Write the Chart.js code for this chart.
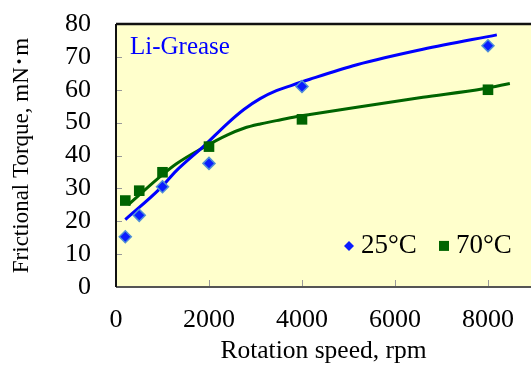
<!DOCTYPE html>
<html><head><meta charset="utf-8">
<script src="https://cdn.jsdelivr.net/npm/chart.js@4.4.1/dist/chart.umd.min.js"></script>
<style>html,body{margin:0;padding:0;background:#fff;overflow:hidden}canvas{display:block}</style>
</head><body><canvas id="c" width="531" height="367"></canvas>
<script>
// measured points
const speeds = [200, 500, 1000, 2000, 4000, 8000];
const torque25 = [15.3, 21.8, 30.5, 37.6, 61.0, 73.4];
const torque70 = [26.3, 29.3, 34.9, 42.7, 51.0, 60.0];
// fitted curves
const fitSpeeds25 = [200, 950, 1300, 1900, 2400, 2750, 3100, 3450, 3750, 4170, 5180, 6600, 8190];
const fit25 = [20.5, 30.0, 35.4, 43.0, 49.8, 54.0, 57.3, 59.7, 61.2, 63.2, 67.6, 72.3, 76.7];
const fitSpeeds70 = [260, 950, 1300, 1900, 2400, 2750, 3100, 3450, 3750, 4170, 5180, 6600, 7900, 8470];
const fit70 = [25.0, 33.6, 37.5, 42.6, 46.3, 48.3, 49.6, 50.6, 51.5, 52.5, 54.7, 57.7, 60.3, 61.9];
// axes
const xTicks = [0, 2000, 4000, 6000, 8000];
const yTicks = [0, 10, 20, 30, 40, 50, 60, 70, 80];
const seriesLabels = ['25°C', '70°C'];
const panelLabel = 'Li-Grease';
const xTitle = 'Rotation speed, rpm';
const yTitle = 'Frictional Torque, mN･m';

const SERIF = '"Liberation Serif", "Times New Roman", "Noto Sans CJK JP", serif';
Chart.defaults.font.family = SERIF;
Chart.defaults.color = '#000';

const pts = (xs, ys) => xs.map((x, i) => ({x, y: ys[i]}));

const decor = {
  id: 'decor',
  beforeDraw(chart) {
    const {ctx, chartArea: a} = chart;
    ctx.save();
    ctx.fillStyle = '#ffffcc';
    ctx.fillRect(a.left, a.top, a.right - a.left, a.bottom - a.top);
    ctx.restore();
  },
  afterDatasetsDraw(chart) {
    const {ctx, chartArea: a, scales} = chart;
    ctx.save();
    // inner tick marks
    ctx.strokeStyle = '#999';
    ctx.lineWidth = 1;
    yTicks.forEach(v => {
      const y = Math.round(scales.y.getPixelForValue(v)) + 0.5;
      ctx.beginPath(); ctx.moveTo(a.left, y); ctx.lineTo(a.left + 6, y); ctx.stroke();
    });
    xTicks.forEach(v => {
      const x = Math.round(scales.x.getPixelForValue(v)) + 0.5;
      ctx.beginPath(); ctx.moveTo(x, a.bottom); ctx.lineTo(x, a.bottom - 7); ctx.stroke();
    });
    // frame
    ctx.strokeStyle = '#555';
    ctx.lineWidth = 2;
    ctx.beginPath(); ctx.moveTo(a.left, a.bottom); ctx.lineTo(a.right, a.bottom); ctx.stroke();
    ctx.strokeStyle = '#111';
    ctx.lineWidth = 2.5;
    ctx.beginPath(); ctx.moveTo(a.left, a.top); ctx.lineTo(a.right, a.top); ctx.stroke();
    ctx.lineWidth = 2;
    ctx.beginPath(); ctx.moveTo(a.left, a.top); ctx.lineTo(a.left, a.bottom); ctx.stroke();
    // panel label
    ctx.font = '25px ' + SERIF;
    ctx.fillStyle = '#0000ff';
    ctx.textBaseline = 'middle';
    ctx.textAlign = 'left';
    ctx.fillText(panelLabel, a.left + 14, a.top + 23);
    // legend
    const ly = scales.y.getPixelForValue(12.5);
    ctx.font = '27px ' + SERIF;
    const ds = chart.data.datasets;
    const dx = 349;
    ctx.fillStyle = ds[0].backgroundColor;
    ctx.beginPath(); ctx.moveTo(dx, ly - 5); ctx.lineTo(dx + 5, ly); ctx.lineTo(dx, ly + 5); ctx.lineTo(dx - 5, ly); ctx.closePath(); ctx.fill();
    ctx.fillStyle = '#000';
    ctx.fillText(ds[0].label, 361, ly);
    const sx = 444;
    ctx.fillStyle = ds[1].backgroundColor;
    ctx.fillRect(sx - 5, ly - 5, 10, 10);
    ctx.fillStyle = '#000';
    ctx.fillText(ds[1].label, 456, ly);
    ctx.restore();
  }
};

function zeroX(s) {
  s.height = 80; s.paddingLeft = 0; s.paddingRight = 0;
  if (s._margins) { s._margins.left = 0; s._margins.right = 0; }
}
function zeroY(s) {
  s.width = 116; s.paddingTop = 0; s.paddingBottom = 0;
  if (s._margins) { s._margins.top = 0; s._margins.bottom = 0; }
}

new Chart(document.getElementById('c'), {
  type: 'scatter',
  data: {
    datasets: [
      {label: seriesLabels[0], data: pts(speeds, torque25), pointStyle: 'rectRot', pointRadius: 6,
       backgroundColor: '#0a1cff', borderColor: '#4f8fd6', borderWidth: 1.5, showLine: false},
      {label: seriesLabels[1], data: pts(speeds, torque70), pointStyle: 'rect', pointRadius: 7.5,
       backgroundColor: '#006400', borderColor: '#006400', borderWidth: 0, showLine: false},
      {label: 'fit25', data: pts(fitSpeeds25, fit25), showLine: true, pointRadius: 0,
       borderColor: '#0000ff', borderWidth: 3, cubicInterpolationMode: 'monotone', fill: false},
      {label: 'fit70', data: pts(fitSpeeds70, fit70), showLine: true, pointRadius: 0,
       borderColor: '#006400', borderWidth: 3, cubicInterpolationMode: 'monotone', fill: false}
    ]
  },
  options: {
    responsive: false,
    animation: false,
    layout: {autoPadding: false, padding: {top: 24, right: 0, left: 0, bottom: 0}},
    plugins: {legend: {display: false}, tooltip: {enabled: false}},
    scales: {
      x: {
        type: 'linear', min: 0, max: 8925,
        afterBuildTicks: s => { s.ticks = xTicks.map(v => ({value: v})); },
        afterFit: zeroX,
        ticks: {font: {size: 26}, padding: 18, maxRotation: 0, autoSkip: false, color: '#000', callback: v => String(v)},
        grid: {display: false, drawTicks: false},
        border: {display: false},
        title: {display: true, text: xTitle, font: {size: 25.5, lineHeight: 1.2}, padding: {top: 0, bottom: 0}, color: '#000'}
      },
      y: {
        type: 'linear', min: 0, max: 80,
        afterBuildTicks: s => { s.ticks = yTicks.map(v => ({value: v})); },
        afterFit: zeroY,
        ticks: {font: {size: 26}, padding: 25, autoSkip: false, color: '#000', callback: v => String(v)},
        grid: {display: false, drawTicks: false},
        border: {display: false},
        title: {display: true, text: yTitle, font: {size: 23, lineHeight: 1.2}, padding: {top: 8, bottom: 0}, color: '#000'}
      }
    }
  },
  plugins: [decor]
});
</script>
</body></html>
